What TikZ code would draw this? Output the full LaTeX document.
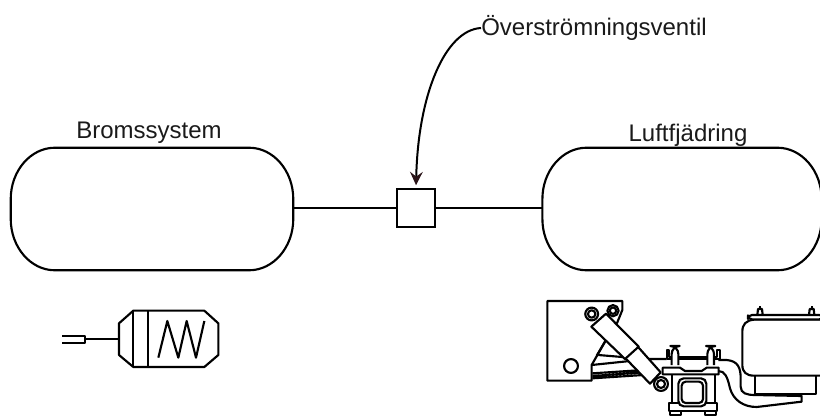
\documentclass[tikz,border=0pt]{standalone}
\usepackage{fontspec}
\setmainfont{Liberation Sans}
\usetikzlibrary{arrows.meta,calc}
\definecolor{tipdark}{HTML}{2A1418}
\definecolor{ink}{HTML}{1A1A1A}
\tikzset{
  tanknode/.style={minimum height=91.5pt,inner sep=0pt},
  tankline/.style={line width=1.6pt},
  valvebox/.style={draw,line width=1.6pt,minimum width=28.5pt,minimum height=28.5pt,inner sep=0pt},
  label/.style={font=\fontsize{18pt}{21pt}\selectfont,inner sep=0pt,text=ink},
  pipe/.style={line width=1.5pt},
  callout/.style={line width=1.5pt,-{Stealth[length=10pt,width=9.5pt,inset=3.5pt,color=tipdark]},shorten >=2pt},
  part/.style={line width=1.6pt,line join=round,fill=white},
  partline/.style={line width=1.6pt,line join=round}
}
\newcommand{\tankoutline}[1]{%
  \draw[tankline]
   ($(#1.west)+(0,-10)$) .. controls ($(#1.north west)+(0,23)$) and ($(#1.north west)+(20,0)$) .. ($(#1.north west)+(44,0)$)
   -- ($(#1.north east)+(-44,0)$) .. controls ($(#1.north east)+(-20,0)$) and ($(#1.north east)+(0,23)$) .. ($(#1.east)+(0,-10)$)
   -- ($(#1.east)+(0,10)$) .. controls ($(#1.south east)+(0,-23)$) and ($(#1.south east)+(-20,0)$) .. ($(#1.south east)+(-44,0)$)
   -- ($(#1.south west)+(44,0)$) .. controls ($(#1.south west)+(20,0)$) and ($(#1.south west)+(0,-23)$) .. ($(#1.west)+(0,10)$) -- cycle;}
\begin{document}
\begin{tikzpicture}[x=0.75pt,y=-0.75pt]
\useasboundingbox (0,0) rectangle (820,416);
\node[tanknode,minimum width=211.5pt] (brake) at (152,209) {};
\node[tanknode,minimum width=209pt] (air) at (682,209) {};
\tankoutline{brake}
\tankoutline{air}
\node[valvebox] (valve) at (416,208) {};
\draw[pipe] (brake.east |- valve) -- (valve);
\draw[pipe] (valve) -- (air.west |- valve);
\node[label] (tb) at (149,133) {Bromssystem};
\node[label] (ta) at (688,135) {Luftfjädring};
\node[label,anchor=west] (to) at (481,28) {Överströmningsventil};
\draw[callout] (to.west) .. controls (445,30) and (418,95) .. (valve.north);
% brake chamber
\begin{scope}[shift={(50,295)},x=0.25pt,y=-0.25pt]
\draw[part] (207,85)--(250,47)--(463,47)--(505,85)--(505,180)--(463,216)--(250,216)--(207,180)--cycle;
\draw[partline] (250,47)--(250,216) (295,47)--(295,216);
\draw[partline] (325,188)--(352,78)--(385,188)--(410,78)--(438,188)--(463,78);
\draw[partline] (108,133)--(207,133);
\draw[partline] (37,124)--(105,124)--(105,143)--(37,143);
\end{scope}
% suspension
\begin{scope}[shift={(530,285)},x=0.25pt,y=-0.25pt]
\clip (0,0) rectangle (870,393);
% plate
\draw[part] (52,48)--(277,48)--(277,75)--(262,112)--(225,170)--(185,240)--(185,287)--(52,287)--cycle;
\draw[part] (123,243) circle[radius=5.2pt];
% leaf springs
\draw[partline] (225,170)--(200,212) (205,210)--(300,218) (185,240)--(300,228)
 (187,265)--(340,255) (187,273)--(340,262) (187,280)--(340,270) (355,222)--(410,222);
% arms
\draw[partline] (565,225)--(590,225) .. controls (625,228) and (632,250) .. (632,280)
  -- (632,305) .. controls (632,325) and (650,330) .. (675,330) -- (815,333) -- (815,350)
  -- (680,366) .. controls (640,366) and (610,345) .. (600,310) .. controls (592,275) and (585,258) .. (565,258);
% air spring
\draw[part] (675,268)--(858,268)--(858,328)--(675,328)--cycle;
\draw[part] (672,104) .. controls (648,106) and (637,118) .. (637,140) -- (637,240) .. controls (637,262) and (650,272) .. (672,272) -- (880,272) -- (880,104) -- cycle;
\draw[part] (682,90)--(684,72)--(696,72)--(698,90) (837,90)--(839,72)--(851,72)--(853,90);
\draw[partline] (690,64)--(690,72) (845,64)--(845,72);
\draw[part,rounded corners=3pt] (654,90)--(880,90)--(880,103)--(654,103)--cycle;
% clamp and axle
\draw[part] (410,222)--(410,195)--(418,195)--(418,215)--(560,215)--(560,195)--(570,195)--(570,222)--cycle;
\draw[part] (425,268)--(425,355)--(555,355)--(555,268)--cycle;
\draw[part] (418,355)--(562,355)--(562,377)--(418,377)--cycle;
\draw[part] (420,377) rectangle (452,390) (525,377) rectangle (558,390);
\draw[part,rounded corners=4pt] (445,280) rectangle (529,364);
\draw[partline,rounded corners=3pt] (455,290) rectangle (519,354);
\draw[part] (398,248)--(450,248)--(465,258)--(515,258)--(530,248)--(566,248)--(566,268)--(398,268)--cycle;
\draw[part,rounded corners=6pt] (425,240)--(425,183)--(445,183)--(445,240);
\draw[part,rounded corners=6pt] (532,240)--(532,183)--(552,183)--(552,240);
% shock absorber
\draw[part] (272,205)--(310,170)--(392,262)--(360,296)--cycle;
\draw[part] (184,125)--(228,86)--(326,185)--(285,222)--cycle;
\draw[part] (185,87) circle[radius=4.8pt];
\draw[part] (185,87) circle[radius=2.8pt];
\draw[part] (249,77) circle[radius=4.2pt];
\draw[part] (249,77) circle[radius=2.4pt];
\draw[part] (393,297) circle[radius=5.2pt];
\draw[part] (393,297) circle[radius=3pt];
\end{scope}
\end{tikzpicture}
\end{document}
